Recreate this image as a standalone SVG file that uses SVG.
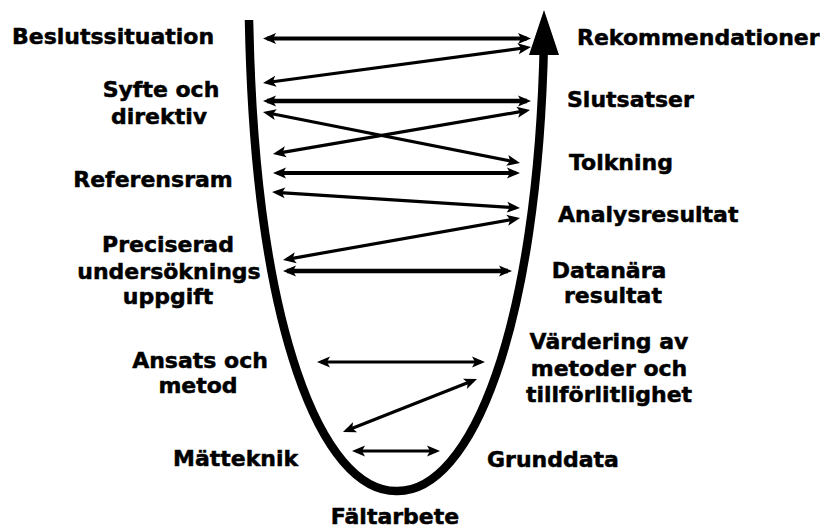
<svg xmlns="http://www.w3.org/2000/svg" width="820" height="529" viewBox="0 0 820 529">
<style>
  marker { overflow: visible; }
  text { font-family: "DejaVu Sans", "Liberation Sans", sans-serif; font-weight: bold; font-size: 22px; fill: #000; stroke: #000; stroke-width: 0.5; stroke-linejoin: round; }
  .m { text-anchor: middle; }
  .c { stroke: #000; fill: none; marker-start: url(#ah); marker-end: url(#ah); }
  .w3 { stroke-width: 3.2; }
  .w4 { stroke-width: 4; }
  .w5 { stroke-width: 4.6; }
  .u { stroke: #000; stroke-width: 8.5; fill: none; }
</style>
<defs>
  <marker id="ah" markerUnits="userSpaceOnUse" orient="auto-start-reverse" refX="-4" refY="0" markerWidth="20" markerHeight="20">
    <path d="M0,0 L-13,-5.5 L-10,0 L-13,5.5 Z" fill="#000"/>
  </marker>
</defs>
<rect width="820" height="529" fill="#fff"/>

<g id="process-curve">
  <path class="u" d="M249,20 C255,330 322,492 397,491 C471,492 538,330 544,40"/>
  <polygon points="544,10 559,55 529,55" fill="#000"/>
</g>

<g id="connectors">
  <line class="c w4" x1="267" y1="38.5" x2="527" y2="38.5"/>
  <line class="c w3" x1="527" y1="47.5" x2="267" y2="82.5"/>
  <line class="c w5" x1="267" y1="101" x2="527" y2="101"/>
  <line class="c w3" x1="266.9" y1="112.8" x2="516.1" y2="162.2"/>
  <line class="c w3" x1="276.9" y1="153.3" x2="526.1" y2="110.7"/>
  <line class="c w4" x1="277" y1="173" x2="516" y2="173"/>
  <line class="c w3" x1="276" y1="192.3" x2="516" y2="207.7"/>
  <line class="c w3" x1="286.9" y1="259.3" x2="516.1" y2="218.7"/>
  <line class="c w5" x1="287" y1="271" x2="508" y2="271"/>
  <line class="c w3" x1="321" y1="362" x2="481" y2="362"/>
  <line class="c w3" x1="346.7" y1="430.5" x2="473.3" y2="380.5"/>
  <line class="c w3" x1="356" y1="451" x2="436" y2="451"/>
</g>

<g id="beslutssituation"><text x="12" y="44">Beslutssituation</text></g>
<g id="syfte"><text class="m" x="161" y="97">Syfte och</text><text class="m" x="159" y="124">direktiv</text></g>
<g id="referensram"><text class="m" x="153" y="187">Referensram</text></g>
<g id="preciserad"><text class="m" x="168" y="252">Preciserad</text><text class="m" x="169" y="279">undersöknings</text><text class="m" x="168" y="304">uppgift</text></g>
<g id="ansats"><text class="m" x="200" y="368">Ansats och</text><text class="m" x="198" y="393">metod</text></g>
<g id="matteknik"><text x="173" y="466">Mätteknik</text></g>
<g id="faltarbete"><text class="m" x="395" y="524">Fältarbete</text></g>
<g id="grunddata"><text x="487" y="467">Grunddata</text></g>
<g id="vardering"><text class="m" x="609" y="349">Värdering av</text><text class="m" x="609" y="376">metoder och</text><text class="m" x="609" y="402">tillförlitlighet</text></g>
<g id="datanara"><text class="m" x="609" y="278">Datanära</text><text class="m" x="613" y="303">resultat</text></g>
<g id="analysresultat"><text x="558" y="222">Analysresultat</text></g>
<g id="tolkning"><text x="569" y="170">Tolkning</text></g>
<g id="slutsatser"><text x="567" y="107">Slutsatser</text></g>
<g id="rekommendationer"><text x="577" y="45">Rekommendationer</text></g>
</svg>
